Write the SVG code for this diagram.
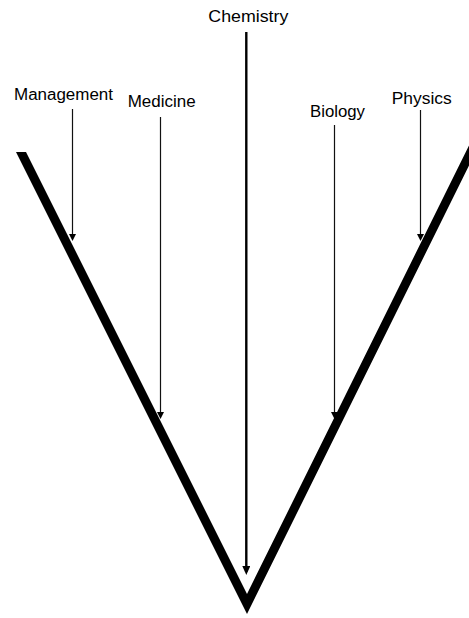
<svg xmlns="http://www.w3.org/2000/svg" width="469" height="618" viewBox="0 0 469 618">
  <defs>
    <style>
      .lbl { font-family: "Liberation Sans", Arial, sans-serif; font-size: 16px; fill: #000; }
      .thin { stroke: #111; stroke-width: 1.2; fill: none; }
      .thick { stroke: #000; stroke-width: 2.4; fill: none; }
    </style>
    <marker id="arr" viewBox="0 0 7 7" markerUnits="userSpaceOnUse" markerWidth="7" markerHeight="7" refX="4" refY="3.5" orient="auto">
      <path d="M0,0 L7,3.5 L0,7 z" fill="#000"/>
    </marker>
    <marker id="arrBig" viewBox="0 0 9 8" markerUnits="userSpaceOnUse" markerWidth="9" markerHeight="8" refX="6" refY="4" orient="auto">
      <path d="M0,0 L9,4 L0,8 z" fill="#000"/>
    </marker>
  </defs>
  <rect width="469" height="618" fill="#fff"/>

  <g id="v-shape">
    <polygon points="16,152 26,152 247,594 475,133.4 485,133.2 247,614" fill="#000"/>
  </g>

  <g id="connectors">
    <line class="thin" x1="72.5" y1="109" x2="72.5" y2="238" marker-end="url(#arr)"/>
    <line class="thin" x1="160.5" y1="117" x2="160.5" y2="416" marker-end="url(#arr)"/>
    <line class="thick" x1="246.3" y1="32" x2="246.3" y2="572" marker-end="url(#arrBig)"/>
    <line class="thin" x1="334.5" y1="125" x2="334.5" y2="416" marker-end="url(#arr)"/>
    <line class="thin" x1="420.5" y1="110" x2="420.5" y2="238" marker-end="url(#arr)"/>
  </g>

  <g id="node-management">
    <text class="lbl" x="14" y="100.3" textLength="99" lengthAdjust="spacingAndGlyphs">Management</text>
  </g>
  <g id="node-medicine">
    <text class="lbl" x="127.7" y="107.3" textLength="68" lengthAdjust="spacingAndGlyphs">Medicine</text>
  </g>
  <g id="node-chemistry">
    <text class="lbl" x="208.3" y="21.7" textLength="80" lengthAdjust="spacingAndGlyphs">Chemistry</text>
  </g>
  <g id="node-biology">
    <text class="lbl" x="310" y="117.3" textLength="55" lengthAdjust="spacingAndGlyphs">Biology</text>
  </g>
  <g id="node-physics">
    <text class="lbl" x="391.7" y="104" textLength="60" lengthAdjust="spacingAndGlyphs">Physics</text>
  </g>
</svg>
